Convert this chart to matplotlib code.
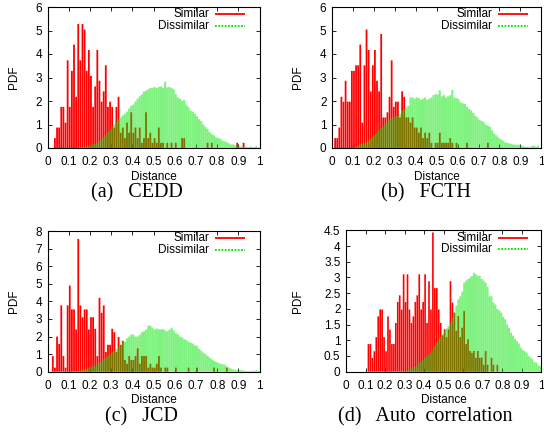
import numpy as np
import matplotlib
matplotlib.use('Agg')
import matplotlib.pyplot as plt
from matplotlib.lines import Line2D

bins = np.round(np.arange(100) * 0.01 + 0.005, 3)

sim_cedd = [0, 0, 0, 0.42, 0.87, 0.87, 1.75, 1.75, 1.08, 3.73,
            1.75, 3.28, 4.40, 2.18, 5.28, 3.73, 5.28, 5.04, 3.28, 4.17,
            3.07, 1.75, 2.62, 4.17, 2.86, 1.97, 2.41, 3.52, 1.75, 1.97,
            1.75, 0.87, 1.75, 2.18, 0.65, 0.87, 0.42, 1.08, 0.65, 1.52,
            0.65, 0.87, 0.42, 0.87, 0.22, 0.42, 1.52, 0.42, 0.65, 0.22,
            0.42, 0.22, 0.87, 0.22, 0.22, 0, 0.22, 0, 0.22, 0,
            0.22, 0, 0, 0.42, 0.42, 0, 0, 0, 0, 0,
            0, 0, 0, 0, 0, 0.22, 0, 0.22, 0, 0,
            0, 0, 0, 0, 0, 0, 0, 0, 0, 0.22,
            0, 0, 0.22, 0, 0, 0, 0, 0, 0, 0]
dis_cedd = [0, 0, 0, 0, 0, 0, 0, 0, 0, 0,
            0, 0, 0, 0, 0, 0.02, 0.03, 0.05, 0.05, 0.08,
            0.10, 0.15, 0.18, 0.22, 0.30, 0.38, 0.45, 0.55, 0.68, 0.78,
            0.90, 1.00, 1.12, 1.20, 1.30, 1.38, 1.45, 1.55, 1.68, 1.80,
            1.85, 1.98, 2.10, 2.20, 2.28, 2.40, 2.44, 2.50, 2.55, 2.55,
            2.60, 2.55, 2.60, 2.62, 2.55, 2.82, 2.58, 2.60, 2.55, 2.50,
            2.30, 2.15, 2.10, 2.00, 2.05, 1.85, 1.75, 1.60, 1.55, 1.45,
            1.35, 1.22, 1.15, 1.00, 0.90, 0.82, 0.68, 0.60, 0.54, 0.45,
            0.42, 0.40, 0.32, 0.28, 0.25, 0.20, 0.15, 0.15, 0.12, 0.10,
            0.08, 0.06, 0.05, 0.05, 0.03, 0.05, 0.05, 0.03, 0.08, 0.02]

sim_fcth = [0, 0.42, 0.42, 0.87, 2.18, 1.97, 2.86, 1.97, 1.97, 3.28,
            3.28, 3.52, 3.52, 4.40, 1.08, 3.52, 5.04, 4.17, 2.41, 3.52,
            4.17, 2.86, 2.41, 4.85, 1.30, 1.30, 1.52, 2.18, 3.73, 1.75,
            1.97, 1.97, 1.30, 2.41, 2.18, 1.30, 1.30, 1.08, 1.30, 0.87,
            0.87, 0.65, 0.87, 0.42, 0.65, 0.42, 0.65, 0.22, 0, 0.22,
            0.22, 0.65, 0.22, 0.22, 0.22, 0.22, 0.42, 0.22, 0, 0.22,
            0, 0, 0, 0, 0.22, 0, 0, 0, 0, 0,
            0, 0, 0, 0, 0.22, 0, 0, 0, 0, 0,
            0, 0, 0, 0, 0, 0, 0, 0, 0, 0,
            0, 0, 0, 0, 0, 0, 0, 0, 0, 0]
dis_fcth = [0, 0, 0, 0, 0, 0, 0, 0, 0, 0,
            0, 0.05, 0.10, 0.15, 0.18, 0.20, 0.25, 0.30, 0.38, 0.46,
            0.55, 0.65, 0.75, 0.85, 0.90, 1.05, 1.15, 1.20, 1.25, 1.30,
            1.35, 1.38, 1.45, 1.60, 1.65, 1.72, 1.80, 2.15, 2.15, 2.10,
            2.15, 2.12, 2.05, 2.10, 2.15, 2.05, 2.10, 2.15, 2.25, 2.30,
            2.28, 2.45, 2.20, 2.25, 2.15, 2.20, 2.25, 2.47, 2.15, 2.12,
            2.08, 1.95, 1.90, 1.87, 1.75, 1.66, 1.60, 1.50, 1.38, 1.30,
            1.20, 1.15, 1.10, 1.00, 0.95, 0.90, 0.75, 0.62, 0.54, 0.45,
            0.38, 0.33, 0.25, 0.22, 0.20, 0.18, 0.15, 0.14, 0.14, 0.14,
            0.10, 0.08, 0.05, 0.05, 0.03, 0.08, 0.10, 0.05, 0.10, 0]

sim_jcd = [0, 0, 0.89, 0.23, 2.00, 1.57, 3.77, 0.89, 0.23, 3.77,
           4.90, 3.54, 3.54, 2.40, 7.55, 3.77, 3.10, 3.54, 3.54, 2.40,
           3.10, 3.10, 2.44, 0.89, 4.20, 3.35, 3.77, 1.12, 1.53, 1.53,
           2.44, 2.25, 1.12, 1.97, 1.53, 1.76, 0.67, 0.45, 0.89, 0.67,
           0.67, 0.89, 1.33, 0.45, 0.89, 0.89, 0.89, 0.23, 0.45, 0.23,
           0.23, 0.45, 0.89, 0.23, 0, 0.23, 0.23, 0, 0, 0,
           0.23, 0, 0, 0, 0, 0, 0.23, 0, 0, 0,
           0.23, 0, 0, 0, 0, 0, 0, 0, 0.23, 0,
           0, 0, 0, 0, 0.23, 0, 0, 0, 0, 0,
           0, 0, 0, 0, 0, 0, 0, 0, 0, 0]
dis_jcd = [0, 0, 0, 0, 0, 0, 0, 0, 0, 0,
           0, 0, 0, 0, 0, 0.05, 0.09, 0.13, 0.15, 0.20,
           0.23, 0.30, 0.35, 0.42, 0.50, 0.60, 0.70, 0.80, 0.90, 1.00,
           1.10, 1.20, 1.30, 1.36, 1.50, 1.74, 1.70, 1.90, 2.00, 2.12,
           2.10, 2.00, 2.00, 2.10, 2.25, 2.30, 2.40, 2.62, 2.62, 2.50,
           2.40, 2.45, 2.40, 2.40, 2.42, 2.35, 2.30, 2.40, 2.50, 2.35,
           2.20, 2.12, 2.00, 1.95, 1.84, 1.80, 1.70, 1.65, 1.60, 1.50,
           1.46, 1.30, 1.20, 1.08, 1.00, 0.90, 0.80, 0.70, 0.62, 0.55,
           0.50, 0.45, 0.42, 0.40, 0.30, 0.23, 0.18, 0.13, 0.10, 0.09,
           0.09, 0.09, 0.05, 0.05, 0.03, 0.03, 0.05, 0.05, 0.09, 0.05]

sim_auto = [0, 0, 0, 0, 0, 0, 0, 0, 0, 0,
            0, 0.88, 0.88, 0.44, 0.65, 1.10, 1.76, 1.98, 1.98, 1.10,
            0.65, 1.76, 1.34, 0.88, 0.88, 1.55, 2.22, 2.43, 1.98, 3.10,
            2.22, 3.10, 1.98, 1.55, 1.76, 2.22, 2.43, 3.10, 1.98, 2.22,
            3.10, 1.55, 2.88, 1.98, 4.43, 2.66, 2.66, 1.98, 1.55, 1.15,
            1.35, 1.10, 1.35, 2.88, 2.20, 1.88, 1.30, 1.77, 1.10, 1.40,
            1.93, 0.88, 1.03, 0.66, 0.60, 0.66, 0.44, 0.66, 0.44, 0.45,
            0.22, 0.66, 0.22, 0, 0.44, 0.22, 0, 0.22, 0, 0,
            0, 0, 0, 0, 0, 0, 0, 0, 0, 0,
            0, 0, 0, 0, 0, 0, 0, 0, 0, 0]
dis_auto = [0, 0, 0, 0, 0, 0, 0, 0, 0, 0,
            0, 0, 0, 0, 0, 0, 0, 0, 0, 0,
            0, 0, 0, 0, 0, 0, 0, 0, 0, 0,
            0.03, 0.05, 0.07, 0.10, 0.13, 0.16, 0.20, 0.29, 0.33, 0.38,
            0.45, 0.50, 0.55, 0.60, 0.68, 0.80, 0.92, 1.00, 1.10, 1.20,
            1.30, 1.38, 1.45, 1.56, 1.70, 1.88, 2.10, 2.30, 2.40, 2.55,
            2.83, 2.90, 2.95, 3.00, 3.05, 3.15, 3.10, 3.05, 3.05, 2.95,
            2.90, 2.83, 2.70, 2.40, 2.40, 2.20, 2.14, 2.00, 1.95, 1.88,
            1.75, 1.67, 1.50, 1.40, 1.24, 1.15, 1.05, 0.98, 0.90, 0.77,
            0.70, 0.65, 0.61, 0.50, 0.45, 0.40, 0.30, 0.29, 0.20, 0.18]

xticks = [0, 0.1, 0.2, 0.3, 0.4, 0.5, 0.6, 0.7, 0.8, 0.9, 1]
xticklabels = ['0', '0.1', '0.2', '0.3', '0.4', '0.5', '0.6', '0.7', '0.8', '0.9', '1']
yticks_a = [0, 1, 2, 3, 4, 5, 6]
yticks_c = [0, 1, 2, 3, 4, 5, 6, 7, 8]
yticks_d = [0, 0.5, 1, 1.5, 2, 2.5, 3, 3.5, 4, 4.5]
yticklabels_d = ['0', '0.5', '1', '1.5', '2', '2.5', '3', '3.5', '4', '4.5']

series_labels = ['Similar', 'Dissimilar']
captions = ['(a)   CEDD', '(b)   FCTH', '(c)   JCD', '(d)   Auto  correlation']

W, H = 544, 432
fig = plt.figure(figsize=(W / 100, H / 100), dpi=100)
sans = ['Liberation Sans', 'DejaVu Sans']
serif = ['Liberation Serif', 'DejaVu Serif']
plt.rcParams['font.family'] = sans

# axes boxes in pixels: left, top, right, bottom
boxes = [(47.5, 7, 259.5, 148), (332, 7, 541.3, 148),
         (47.5, 231, 259.7, 371.7), (346, 230.3, 541.3, 371.7)]
panels = [(sim_cedd, dis_cedd, yticks_a, None, 6),
          (sim_fcth, dis_fcth, yticks_a, None, 6),
          (sim_jcd, dis_jcd, yticks_c, None, 8),
          (sim_auto, dis_auto, yticks_d, yticklabels_d, 4.5)]
pdf_x = [13.8, 298.2, 13.8, 298.2]
cap_pos = [(137, 193), (426, 193), (141.7, 417), (425, 417)]
fs = 8.5

RED = '#ff0000'
GREEN = '#00e600'

for i, ((l, t, r, b), (sim, dis, yt, ytl, ymax)) in enumerate(zip(boxes, panels)):
    ax = fig.add_axes([l / W, 1 - b / H, (r - l) / W, (b - t) / H])
    ax.bar(bins, sim, width=0.0085, color=RED, linewidth=0, zorder=2, snap=False)
    ax.bar(bins, dis, width=0.0099, color=GREEN, alpha=0.5, linewidth=0, zorder=3,
           snap=False)
    ax.set_xlim(0, 1)
    ax.set_ylim(0, ymax)
    ax.set_xticks(xticks)
    ax.set_xticklabels(xticklabels, fontsize=fs)
    ax.set_yticks(yt)
    if ytl is not None:
        ax.set_yticklabels(ytl, fontsize=fs)
    else:
        ax.set_yticklabels([str(v) for v in yt], fontsize=fs)
    ax.tick_params(direction='in', length=3.2, width=0.6, top=True, right=True,
                   labelsize=fs, colors='black')
    ax.tick_params(axis='x', pad=6)
    ax.tick_params(axis='y', pad=4)
    for sp in ax.spines.values():
        sp.set_linewidth(0.8)
    # y label
    fig.text(pdf_x[i] / W, 1 - ((t + b) / 2) / H, 'PDF', rotation=90,
             ha='center', va='center', fontsize=fs)
    # x label
    fig.text(((l + r) / 2) / W, 1 - (b + 28.5) / H, 'Distance',
             ha='center', va='center', fontsize=fs)
    # caption
    fig.text(cap_pos[i][0] / W, 1 - cap_pos[i][1] / H, captions[i],
             ha='center', va='center', fontsize=14.5, family=serif)
    # legend (manual, gnuplot style)
    w = r - l
    h = b - t
    tx = (209.3 - 47.5) / 212 if i in (0, 2) else ((492 - l) / w)
    s0 = tx + 6 / w
    s1 = s0 + 30 / w
    for j, (lab, col, ls) in enumerate(zip(series_labels, [RED, GREEN],
                                           ['-', (0, (1, 0.8))])):
        yy = 1 - (7.3 + 11.4 * j) / h
        ax.text(tx, yy, lab, transform=ax.transAxes, ha='right', va='center',
                fontsize=fs)
        ax.add_line(Line2D([s0, s1], [yy, yy], transform=ax.transAxes,
                           color=col, linewidth=1.3, linestyle=ls,
                           solid_capstyle='butt'))

fig.savefig('out.png', dpi=100)
